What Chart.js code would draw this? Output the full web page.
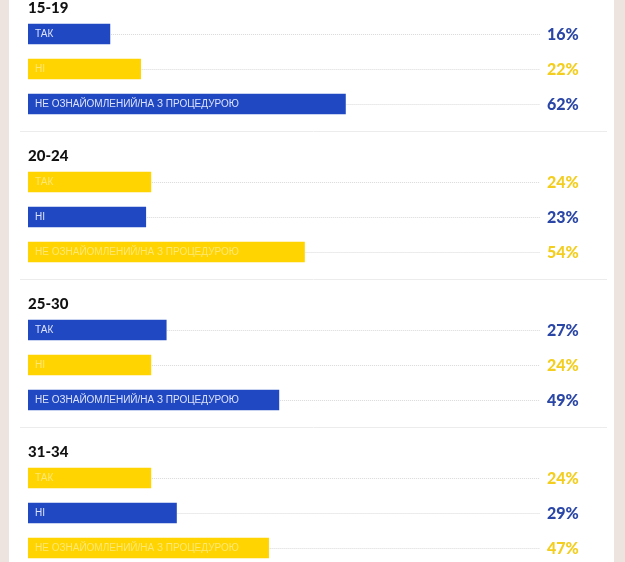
<!DOCTYPE html>
<html>
<head>
<meta charset="utf-8">
<script src="https://cdn.jsdelivr.net/npm/chart.js@4"></script>
<style>
  html, body { margin: 0; padding: 0; background: #ede4e0; }
  #wrap { position: relative; width: 625px; height: 562px; overflow: hidden; }
  #panel { position: absolute; left: 9px; top: 0; width: 605px; height: 562px; background: #ffffff; }
  #c { position: absolute; left: 0; top: 0; }
</style>
</head>
<body>
<div id="wrap">
  <div id="panel"></div>
  <canvas id="c" width="625" height="562"></canvas>
</div>
<script>
// ---- data ----
const groups = ['15-19', '20-24', '25-30', '31-34'];
const answers = ['ТАК', 'НІ', 'НЕ ОЗНАЙОМЛЕНИЙ/НА З ПРОЦЕДУРОЮ'];
const values15_19 = [16, 22, 62];
const values20_24 = [24, 23, 54];
const values25_30 = [27, 24, 49];
const values31_34 = [24, 29, 47];
const groupValues = [values15_19, values20_24, values25_30, values31_34];

// ---- styling / layout ----
const BLUE = '#2048c2';
const YELLOW = '#ffd400';
const BLUE_TXT = '#2a46a6';
const YELLOW_TXT = '#f4ce1e';
const ROW_PX = 35;          // spacing between bars within a group
const GROUP_PX = 148;       // spacing between groups
const GROUP_STRIDE = GROUP_PX / ROW_PX;
const FIRST_ROW_PX = 34;
const H = 562;

const points = [];
const colors = [];
const meta = [];
groupValues.forEach((vals, g) => {
  vals.forEach((v, r) => {
    points.push({ x: v, y: g * GROUP_STRIDE + r });
    const idx = g * 3 + r;
    colors.push(idx % 2 === 0 ? BLUE : YELLOW);
    meta.push({ g, r, blue: idx % 2 === 0, label: answers[r], value: v });
  });
});

const yMin = -FIRST_ROW_PX / ROW_PX;
const yMax = yMin + H / ROW_PX;

const decor = {
  id: 'decor',
  afterDatasetsDraw(chart) {
    const ctx = chart.ctx;
    const els = chart.getDatasetMeta(0).data;
    const xs = chart.scales.x;
    const xEnd = xs.getPixelForValue(100);
    ctx.save();
    els.forEach((el, i) => {
      const m = meta[i];
      const left = Math.min(el.x, el.base);
      const right = Math.max(el.x, el.base);
      // dotted leader line
      ctx.strokeStyle = '#d9d9d9';
      ctx.lineWidth = 1;
      ctx.setLineDash([1, 1]);
      ctx.beginPath();
      ctx.moveTo(right + 1, Math.round(el.y) + 0.5);
      ctx.lineTo(xEnd, Math.round(el.y) + 0.5);
      ctx.stroke();
      ctx.setLineDash([]);
      // label inside bar
      ctx.font = '10px "Liberation Sans", Arial, sans-serif';
      ctx.textAlign = 'left';
      ctx.textBaseline = 'middle';
      ctx.fillStyle = m.blue ? 'rgba(235,240,255,0.92)' : 'rgba(255,255,255,0.45)';
      ctx.fillText(m.label, left + 7, el.y + 0.5);
      // percent text
      ctx.font = '900 16px Lato, "Open Sans", sans-serif';
      ctx.fillStyle = m.blue ? BLUE_TXT : YELLOW_TXT;
      ctx.fillText(m.value + '%', xEnd + 7, el.y + 1);
      // group title above first bar
      if (m.r === 0) {
        ctx.font = '900 15px Lato, "Open Sans", sans-serif';
        ctx.fillStyle = '#111111';
        ctx.fillText(groups[m.g], left, el.y - 26);
      }
      // separator after last bar
      if (m.r === 2 && m.g < groups.length - 1) {
        ctx.strokeStyle = '#ececec';
        ctx.lineWidth = 1;
        ctx.beginPath();
        ctx.moveTo(20, Math.round(el.y + 27) + 0.5);
        ctx.lineTo(607, Math.round(el.y + 27) + 0.5);
        ctx.stroke();
      }
    });
    ctx.restore();
  }
};

new Chart(document.getElementById('c'), {
  type: 'bar',
  data: {
    datasets: [{
      data: points,
      backgroundColor: colors,
      borderWidth: 0,
      barThickness: 20
    }]
  },
  options: {
    indexAxis: 'y',
    responsive: false,
    animation: false,
    layout: { padding: { left: 28, right: 85, top: 0, bottom: 0 } },
    plugins: { legend: { display: false }, tooltip: { enabled: false } },
    scales: {
      x: { type: 'linear', min: 0, max: 100, display: false },
      y: { type: 'linear', min: yMin, max: yMax, reverse: true, offset: false, display: false }
    }
  },
  plugins: [decor]
});
</script>
</body>
</html>
